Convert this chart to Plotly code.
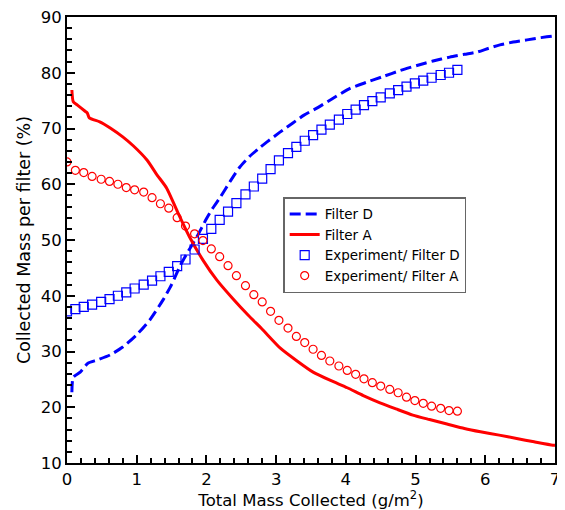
import plotly.graph_objects as go

# Experiment x positions (g/m^2)
exp_x = [0.00, 0.12, 0.24, 0.36, 0.49, 0.61, 0.73, 0.85, 0.97, 1.10, 1.22, 1.34, 1.46, 1.58,
         1.70, 1.83, 1.95, 2.07, 2.19, 2.31, 2.43, 2.56, 2.68, 2.80, 2.92, 3.04, 3.17, 3.29,
         3.41, 3.53, 3.65, 3.77, 3.90, 4.02, 4.14, 4.26, 4.38, 4.50, 4.63, 4.75, 4.87, 4.99,
         5.11, 5.23, 5.36, 5.48, 5.60]

exp_d = [37.2, 37.6, 38.0, 38.4, 38.9, 39.4, 40.0, 40.6, 41.3, 42.0, 42.7, 43.5, 44.3, 45.3,
         46.5, 48.3, 50.2, 52.0, 53.6, 55.1, 56.6, 58.2, 59.6, 61.0, 62.7, 64.3, 65.6, 66.7,
         67.8, 68.8, 69.8, 70.7, 71.6, 72.6, 73.4, 74.2, 74.9, 75.6, 76.3, 76.9, 77.5, 78.1,
         78.6, 79.1, 79.6, 80.0, 80.5]

exp_a = [64.0, 62.5, 62.1, 61.4, 60.9, 60.5, 60.0, 59.4, 59.0, 58.6, 57.6, 56.5, 55.7, 54.0,
         52.5, 51.1, 49.9, 48.4, 47.0, 45.4, 43.6, 41.8, 40.2, 38.9, 37.2, 35.6, 34.2, 32.7,
         31.6, 30.4, 29.3, 28.3, 27.4, 26.6, 25.9, 25.1, 24.4, 23.8, 23.2, 22.6, 21.8, 21.2,
         20.7, 20.2, 19.8, 19.4, 19.3]

# Model curves
fd_x = [0.07, 0.09, 0.19, 0.30, 0.44, 0.62, 0.80, 1.00, 1.19, 1.38, 1.50, 1.62, 1.74, 1.86,
        2.00, 2.09, 2.20, 2.34, 2.48, 2.62, 2.77, 2.87, 3.05, 3.24, 3.40, 3.59, 3.80, 4.06,
        4.30, 4.53, 4.78, 5.02, 5.25, 5.49, 5.70, 5.88, 6.05, 6.21, 6.40, 6.60, 6.80, 6.97, 7.00]
fd_y = [22.7, 25.4, 26.3, 27.9, 28.5, 29.4, 30.8, 33.0, 35.7, 39.3, 42.0, 45.3, 48.0, 50.5,
        53.8, 55.7, 57.7, 60.5, 63.1, 65.0, 66.6, 67.6, 69.3, 71.0, 72.4, 73.7, 75.3, 77.2,
        78.3, 79.3, 80.4, 81.3, 82.1, 82.8, 83.3, 83.7, 84.4, 85.0, 85.5, 85.9, 86.3, 86.6, 86.7]

fa_x = [0.07, 0.09, 0.15, 0.26, 0.29, 0.32, 0.47, 0.62, 0.80, 0.95, 1.15, 1.29, 1.43, 1.58,
        1.76, 1.95, 2.15, 2.37, 2.60, 2.80, 3.06, 3.30, 3.53, 3.78, 4.02, 4.25, 4.49, 4.72,
        4.96, 5.20, 5.45, 5.70, 5.93, 6.20, 6.45, 6.70, 6.97, 7.00]
fa_y = [76.9, 74.8, 74.2, 73.1, 72.8, 71.9, 71.2, 70.1, 68.5, 66.9, 64.3, 61.7, 59.3, 55.2,
        50.5, 46.4, 42.8, 39.6, 36.5, 34.0, 30.6, 28.3, 26.3, 24.8, 23.5, 22.1, 20.8, 19.7,
        18.6, 17.8, 17.0, 16.2, 15.6, 15.0, 14.4, 13.8, 13.2, 13.2]

BLUE = "#0000ff"
RED = "#ff0000"
FONT = "DejaVu Sans"

fig = go.Figure()
fig.add_trace(go.Scatter(x=fd_x, y=fd_y, mode="lines", name="Filter D",
                         line=dict(color=BLUE, width=3, dash="11px,5px",
                                   shape="spline", smoothing=0.6)))
fig.add_trace(go.Scatter(x=fa_x, y=fa_y, mode="lines", name="Filter A",
                         line=dict(color=RED, width=3, shape="spline", smoothing=0.6)))
fig.add_trace(go.Scatter(x=exp_x, y=exp_d, mode="markers", name="Experiment/ Filter D",
                         marker=dict(symbol="square-open", size=9, color=BLUE,
                                     line=dict(color=BLUE, width=1.2))))
fig.add_trace(go.Scatter(x=exp_x, y=exp_a, mode="markers", name="Experiment/ Filter A",
                         marker=dict(symbol="circle-open", size=8, color=RED,
                                     line=dict(color=RED, width=1.2))))

axis_common = dict(showline=True, linecolor="black", linewidth=2, mirror=True,
                   ticks="inside", tickcolor="black", tickwidth=2, ticklen=8,
                   showgrid=False, zeroline=False, automargin=False,
                   ticklabeloverflow="allow",
                   tickfont=dict(family=FONT, size=16.5, color="black"))

fig.update_xaxes(range=[0, 7], dtick=1, tick0=0,
                 minor=dict(dtick=0.2, ticks="inside", ticklen=5, tickwidth=1.5,
                            tickcolor="black", showgrid=False),
                 title=dict(text="Total Mass Collected (g/m<sup>2</sup>)",
                            font=dict(family=FONT, size=16.5, color="black"), standoff=2),
                 **axis_common)
fig.update_yaxes(range=[10, 90], dtick=10, tick0=10,
                 minor=dict(dtick=2, ticks="inside", ticklen=5, tickwidth=1.5,
                            tickcolor="black", showgrid=False),
                 title=dict(text="Collected Mass per filter (%)",
                            font=dict(family=FONT, size=17.5, color="black"), standoff=6),
                 **axis_common)

# page body adds an 8px offset; figure sized to fit the 565x510 window
fig.update_layout(
    width=557, height=502,
    margin=dict(l=59, r=10, t=9, b=47),
    paper_bgcolor="white", plot_bgcolor="white",
    font=dict(family=FONT, color="black"),
    legend=dict(x=0.443, y=0.596, xanchor="left", yanchor="top",
                bgcolor="white", bordercolor="#666666", borderwidth=1.5,
                font=dict(family=FONT, size=13.5, color="black"),
                itemwidth=30, tracegroupgap=0),
)

fig.write_html("out.html")
